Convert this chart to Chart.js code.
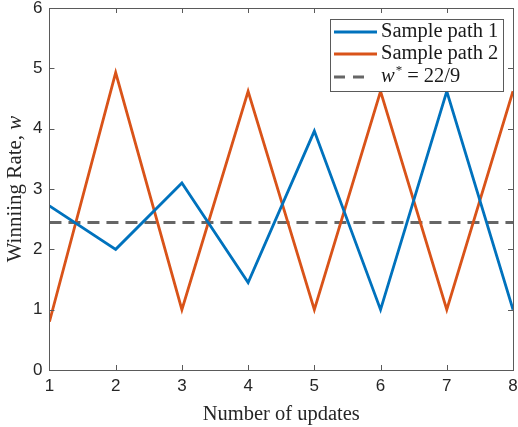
<!DOCTYPE html>
<html>
<head>
<meta charset="utf-8">
<script src="https://cdn.jsdelivr.net/npm/chart.js@4"></script>
<style>
  html, body { margin: 0; padding: 0; background: #fff; }
  #wrap { width: 518px; height: 427px; }
</style>
</head>
<body>
<div id="wrap"><canvas id="rateChart"></canvas></div>
<script>
// number of updates on the x axis
const updates = [1, 2, 3, 4, 5, 6, 7, 8];
const path1 = [2.72, 2.0, 3.1, 1.45, 3.96, 1.0, 4.62, 1.0];
const path2 = [0.8, 4.93, 1.0, 4.62, 1.0, 4.62, 1.0, 4.62];
const wStar = 22 / 9;
const yTicks = [0, 1, 2, 3, 4, 5, 6];

const legendItems = [
  { text: 'Sample path 1', color: '#0072BD', dash: [], end: 377 },
  { text: 'Sample path 2', color: '#D95319', dash: [], end: 377 },
  { text: 'wstar', color: '#666666', dash: [11, 8], end: 366 }
];

const axisColor = '#5a5a5a';
const serif = '"Liberation Serif", "Times New Roman", serif';
const sans = '"Liberation Sans", Arial, sans-serif';

function pts(arr) {
  return updates.map((x, i) => ({ x: x, y: arr[i] }));
}

// box, inward ticks, y title and legend
const matlabAxes = {
  id: 'matlabAxes',
  afterDraw(chart) {
    const ctx = chart.ctx;
    const a = chart.chartArea;
    const xs = chart.scales.x, ys = chart.scales.y;
    const tl = 5;
    ctx.save();
    ctx.strokeStyle = axisColor;
    ctx.lineWidth = 1;
    ctx.strokeRect(Math.round(a.left) + 0.5, Math.round(a.top) + 0.5,
      Math.round(a.right - a.left), Math.round(a.bottom - a.top));
    ctx.beginPath();
    updates.forEach(v => {
      const px = Math.round(xs.getPixelForValue(v)) + 0.5;
      ctx.moveTo(px, a.bottom); ctx.lineTo(px, a.bottom - tl);
      ctx.moveTo(px, a.top); ctx.lineTo(px, a.top + tl);
    });
    yTicks.forEach(v => {
      const py = Math.round(ys.getPixelForValue(v)) + 0.5;
      ctx.moveTo(a.left, py); ctx.lineTo(a.left + tl, py);
      ctx.moveTo(a.right, py); ctx.lineTo(a.right - tl, py);
    });
    ctx.stroke();

    // y axis title
    ctx.translate(15, (a.top + a.bottom) / 2);
    ctx.rotate(-Math.PI / 2);
    ctx.fillStyle = '#262626';
    ctx.textBaseline = 'middle';
    const t1 = 'Winniing Rate, ';
    ctx.font = 'italic 21px ' + serif;
    const wW = ctx.measureText('w').width;
    ctx.font = '21px ' + serif;
    const t1W = ctx.measureText(t1).width;
    const start = -(t1W + wW) / 2;
    ctx.textAlign = 'left';
    ctx.fillText(t1, start, 0);
    ctx.font = 'italic 21px ' + serif;
    ctx.fillText('w', start + t1W, 0);
    ctx.restore();

    // legend
    ctx.save();
    const lx = 330, ly = 19, lw = 173, lh = 72;
    ctx.fillStyle = '#fff';
    ctx.fillRect(lx, ly, lw, lh);
    ctx.strokeStyle = axisColor;
    ctx.lineWidth = 1;
    ctx.strokeRect(lx + 0.5, ly + 0.5, lw, lh);
    const rows = [32, 54, 77];
    legendItems.forEach((it, i) => {
      const y = rows[i];
      ctx.beginPath();
      ctx.strokeStyle = it.color;
      ctx.lineWidth = 3;
      ctx.setLineDash(it.dash);
      ctx.moveTo(334, y);
      ctx.lineTo(it.end, y);
      ctx.stroke();
      ctx.setLineDash([]);
      ctx.fillStyle = '#1a1a1a';
      ctx.textBaseline = 'middle';
      ctx.textAlign = 'left';
      if (it.text === 'wstar') {
        let x = 381;
        ctx.font = 'italic 20.5px ' + serif;
        ctx.fillText('w', x, y);
        x += ctx.measureText('w').width + 1;
        ctx.font = '13px ' + serif;
        ctx.fillText('*', x, y - 6);
        x += ctx.measureText('*').width + 5;
        ctx.font = '20.5px ' + serif;
        ctx.fillText('=', x, y);
        x += ctx.measureText('=').width + 5;
        ctx.fillText('22/9', x, y);
      } else {
        ctx.font = '20.5px ' + serif;
        ctx.fillText(it.text, 381, y);
      }
    });
    ctx.restore();
  }
};

// tick labels may hang past the plot box, like the original axes
function noEdgePadding(scale) {
  scale.paddingTop = 0;
  scale.paddingBottom = 0;
  scale.paddingLeft = 0;
  scale.paddingRight = 0;
}

const ctxRate = document.getElementById('rateChart');
new Chart(ctxRate, {
  type: 'line',
  data: {
    datasets: [
      {
        label: 'Sample path 1',
        data: pts(path1),
        borderColor: '#0072BD',
        borderWidth: 2.8,
        pointRadius: 0,
        tension: 0,
        fill: false
      },
      {
        label: 'Sample path 2',
        data: pts(path2),
        borderColor: '#D95319',
        borderWidth: 2.8,
        pointRadius: 0,
        tension: 0,
        fill: false
      },
      {
        label: 'w* = 22/9',
        data: updates.map(x => ({ x: x, y: wStar })),
        borderColor: '#666666',
        borderWidth: 3,
        borderDash: [12, 7],
        pointRadius: 0,
        fill: false
      }
    ]
  },
  options: {
    animation: false,
    responsive: true,
    maintainAspectRatio: false,
    layout: {
      padding: { left: 26, right: 5, top: 8, bottom: 0 }
    },
    plugins: {
      legend: { display: false },
      tooltip: { enabled: false }
    },
    scales: {
      x: {
        type: 'linear',
        min: 1,
        max: 8,
        afterFit: noEdgePadding,
        border: { display: false },
        grid: { display: false, drawTicks: false },
        ticks: {
          stepSize: 1,
          padding: 6,
          color: '#262626',
          font: { family: sans, size: 17 }
        },
        title: {
          display: true,
          text: 'Number of updates',
          color: '#262626',
          padding: { top: 0, bottom: 0 },
          font: { family: serif, size: 20.5 }
        }
      },
      y: {
        type: 'linear',
        min: 0,
        max: 6,
        afterFit: noEdgePadding,
        border: { display: false },
        grid: { display: false, drawTicks: false },
        ticks: {
          stepSize: 1,
          padding: 7,
          color: '#262626',
          font: { family: sans, size: 17 }
        }
      }
    }
  },
  plugins: [matlabAxes]
});
</script>
</body>
</html>
